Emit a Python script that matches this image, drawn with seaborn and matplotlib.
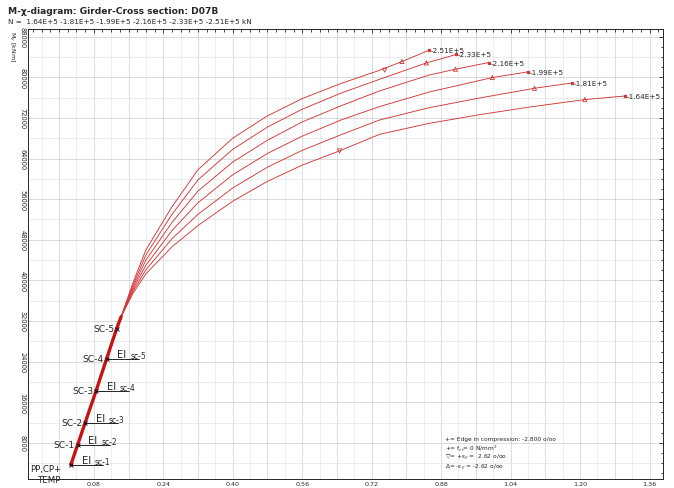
import numpy as np
import pandas as pd
import matplotlib
matplotlib.use("Agg")
import matplotlib.pyplot as plt
import seaborn as sns
from matplotlib.ticker import MultipleLocator, FixedLocator
from matplotlib.patches import Arc

# ---- data -------------------------------------------------------------
# shared elastic branch: curvature chi, moment My [kNm]
base_x = [0.027, 0.0427, 0.060, 0.0853, 0.1095, 0.1326, 0.143]
base_y = [3670, 7610, 11950, 18260, 24570, 30490, 32860]
sc_labels = ["PP,CP+\nTEMP", "SC-1", "SC-2", "SC-3", "SC-4", "SC-5"]

# normal force levels (kN)
n_labels = ["-2.51E+5", "-2.33E+5", "-2.16E+5", "-1.99E+5", "-1.81E+5", "-1.64E+5"]

x_251 = [0.143, 0.17, 0.20, 0.26, 0.32, 0.40, 0.48, 0.56, 0.65, 0.738, 0.790, 0.852]
y_251 = [32860, 39500, 46000, 54500, 61800, 68000, 72400, 75800, 78800, 81360, 83100, 85320]
x_233 = [0.143, 0.17, 0.20, 0.26, 0.32, 0.40, 0.48, 0.56, 0.65, 0.738, 0.846, 0.915]
y_233 = [32860, 39000, 45000, 53000, 59800, 65800, 70200, 73700, 76900, 79590, 82820, 84480]
x_216 = [0.143, 0.17, 0.20, 0.26, 0.32, 0.40, 0.48, 0.56, 0.65, 0.738, 0.853, 0.913, 0.990]
y_216 = [32860, 38600, 44000, 51400, 57600, 63300, 67600, 71200, 74400, 77300, 80450, 81580, 82900]
x_199 = [0.143, 0.17, 0.20, 0.26, 0.32, 0.40, 0.48, 0.56, 0.65, 0.738, 0.853, 0.998, 1.079]
y_199 = [32860, 38200, 43000, 49800, 55300, 60800, 65000, 68400, 71600, 74220, 77100, 79940, 81050]
x_181 = [0.143, 0.17, 0.20, 0.26, 0.32, 0.40, 0.48, 0.56, 0.65, 0.738, 0.853, 0.969, 1.095, 1.182]
y_181 = [32860, 37800, 42100, 48200, 53000, 58200, 62300, 65600, 68700, 71580, 74020, 75920, 77830, 78880]
x_164 = [0.143, 0.17, 0.20, 0.26, 0.32, 0.40, 0.48, 0.56, 0.646, 0.738, 0.853, 0.969, 1.084, 1.211, 1.303]
y_164 = [32860, 37400, 41300, 46600, 50800, 55600, 59500, 62700, 65500, 68760, 70930, 72640, 74140, 75600, 76310]

# strain markers on the branches
up_x = [0.790, 0.846, 0.913, 0.998, 1.095, 1.211]      # -eps_y
up_y = [83100, 82820, 81580, 79940, 77830, 75600]
dn_x = [0.750, 0.646]                                  # +eps_y
dn_y = [81400, 65500]

xs = [x_251, x_233, x_216, x_199, x_181, x_164]
ys = [y_251, y_233, y_216, y_199, y_181, y_164]

frames = []
for lab, xv, yv in zip(n_labels, xs, ys):
    frames.append(pd.DataFrame({"chi": xv, "M": yv, "N": lab}))
df = pd.concat(frames, ignore_index=True)
base_df = pd.DataFrame({"chi": base_x, "M": base_y})

# ---- figure -----------------------------------------------------------
sns.set_style("white")
plt.rcParams["font.family"] = ["DejaVu Sans"]

fig = plt.figure(figsize=(6.74, 4.89), dpi=100)
ax = fig.add_axes([28 / 674, 9.5 / 489, 635 / 674, 449.5 / 489])

red = "#d03838"
sns.lineplot(data=df, x="chi", y="M", hue="N", palette=[red] * 6, sort=False,
             estimator=None, units="N", lw=0.65, legend=False, ax=ax)
sns.lineplot(data=base_df, x="chi", y="M", color="#c41414", lw=2.4, sort=False,
             estimator=None, ax=ax)

# end markers and labels
for lab, xv, yv in zip(n_labels, xs, ys):
    ax.plot(xv[-1], yv[-1], marker="s", ms=2, color=red)
    ax.text(xv[-1] + 0.004, yv[-1], lab, fontsize=5.2, va="center", ha="left")
ax.scatter(up_x, up_y, marker="^", s=9, facecolors="none", edgecolors=red, lw=0.6, zorder=4)
ax.scatter(dn_x, dn_y, marker="v", s=9, facecolors="none", edgecolors=red, lw=0.6, zorder=4)

# elastic stage annotations
for i in range(6):
    bx, by = base_x[i], base_y[i]
    ax.plot(bx, by, marker="x", ms=3, color="k", mew=0.6)
    if i == 0:
        ax.text(bx - 0.022, by - 1800, sc_labels[i], fontsize=6.2, ha="right",
                va="center", linespacing=1.2)
    else:
        ax.text(bx - 0.006, by, sc_labels[i], fontsize=6.6, ha="right", va="center")
for i in range(5):
    bx, by = base_x[i], base_y[i]
    ax.plot([bx, bx + 0.075], [by, by], color="k", lw=0.6)
    ax.add_patch(Arc((bx, by), 0.036, 5200, theta1=0, theta2=75, color="k", lw=0.6))
    ax.text(bx + 0.025, by + 1000, "EI", fontsize=7.2, ha="left", va="center")
    ax.text(bx + 0.055, by + 700, f"sc-{i+1}", fontsize=5.5, ha="left", va="center")

# notes
notes = ["+= Edge in compression: -2.800 o/oo",
         "+= f$_{ct}$= 0 N/mm$^2$",
         "\u25bd= +\u03b5$_y$ =  2.62 o/oo",
         "\u0394= -\u03b5$_y$ = -2.62 o/oo"]
for k, t in enumerate(notes):
    ax.text(0.888, 8900 - k * 1850, t, fontsize=4.2, ha="left", va="center")

# axes, ticks, grid
ax.set_xlim(-0.0715, 1.391)
ax.set_ylim(1000, 89500)
xt = np.arange(0.08, 1.37, 0.16)
ax.xaxis.set_major_locator(FixedLocator(xt))
ax.xaxis.set_minor_locator(MultipleLocator(0.02))
ax.set_xticklabels([f"{v:.2f}" for v in xt], fontsize=4.6)
yt = np.arange(8000, 88001, 8000)
ax.set_yticks(yt)
ax.yaxis.set_minor_locator(MultipleLocator(2000))
ax.set_yticklabels([f"{int(v)}" for v in yt], fontsize=4.8, rotation=-90, va="center")
ax.tick_params(which="both", direction="in", top=True, right=True, length=3, width=0.6)
ax.tick_params(which="minor", length=1.8)
ax.tick_params(axis="y", pad=2)
ax.tick_params(axis="x", pad=2)

for v in np.arange(-0.04, 1.40, 0.04):
    ax.axvline(v, color="#d0d0d0" if round(v / 0.04) % 2 == 0 else "#e6e6e6", lw=0.5, zorder=0)
for v in np.arange(4000, 89001, 4000):
    ax.axhline(v, color="#cccccc" if v % 8000 == 0 else "#e4e4e4", lw=0.5, zorder=0)
for s in ax.spines.values():
    s.set_linewidth(0.7)
ax.set_xlabel("")
ax.set_ylabel("")

fig.text(0.012, 0.976, "M-\u03c7-diagram: Girder-Cross section: D07B", fontsize=6.6,
         fontweight="bold", va="center")
fig.text(0.012, 0.955, "N =  1.64E+5 -1.81E+5 -1.99E+5 -2.16E+5 -2.33E+5 -2.51E+5 kN",
         fontsize=5.2, va="center")
fig.text(0.016, 0.905, "M$_y$ [kNm]", fontsize=4.6, rotation=-90, va="center", ha="center")

fig.savefig("out.png", dpi=100)
